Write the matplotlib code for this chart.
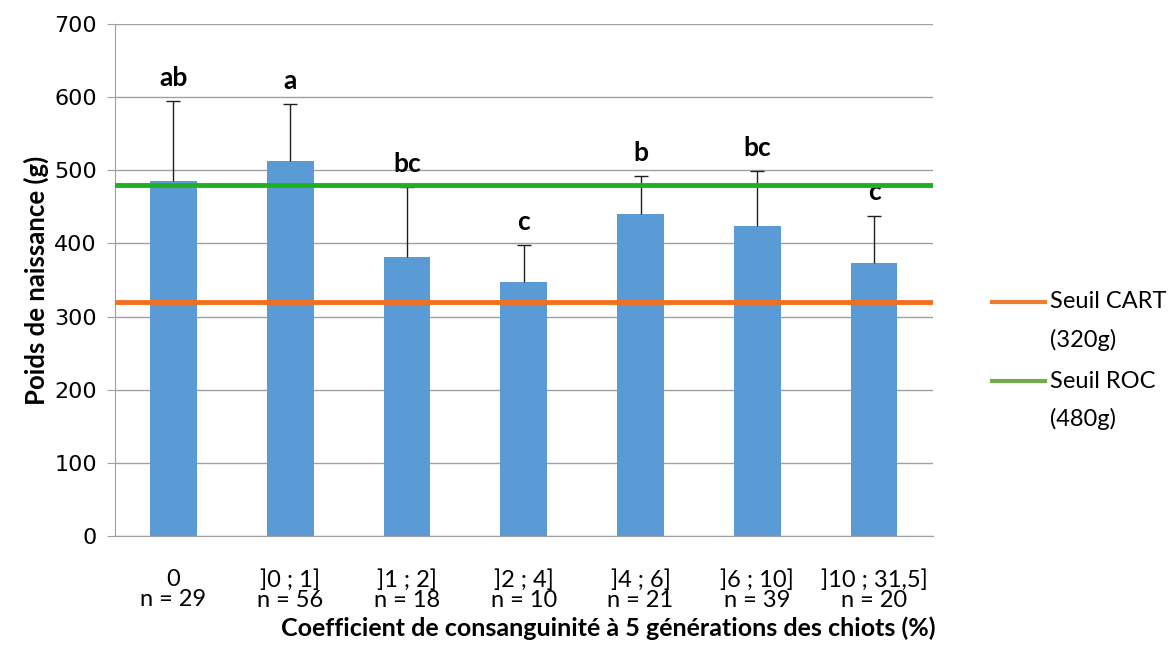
import numpy as np
import matplotlib.pyplot as plt
from matplotlib.lines import Line2D

plt.rcParams['font.family'] = ['Lato', 'DejaVu Sans']

# Poids de naissance moyen par classe de consanguinité
classes = ['0', ']0 ; 1]', ']1 ; 2]', ']2 ; 4]', ']4 ; 6]', ']6 ; 10]', ']10 ; 31,5]']
effectifs = [29, 56, 18, 10, 21, 39, 20]
moyennes = [485, 512, 382, 347, 440, 424, 373]
ecarts = [110, 78, 95, 51, 52, 75, 65]
lettres = ['ab', 'a', 'bc', 'c', 'b', 'bc', 'c']
graduations = [0, 100, 200, 300, 400, 500, 600, 700]

seuil_cart = 320
seuil_roc = 480

fig = plt.figure(figsize=(11.73, 6.45), dpi=100)
ax = fig.add_axes([0.098, 0.169, 0.697, 0.794])

x = np.arange(len(classes))
ax.bar(x, moyennes, width=0.4, color='#5b9bd5', zorder=2)
_, caps, _ = ax.errorbar(x, moyennes, yerr=[np.zeros(len(x)), ecarts], fmt='none',
                         ecolor='#202020', elinewidth=1, capsize=5, capthick=1, zorder=3)
caps[0].set_visible(False)  # pas de trait en bas de la barre d'erreur

for xi, m, e, l in zip(x, moyennes, ecarts, lettres):
    ax.annotate(l, (xi, m + e), xytext=(0, 8), textcoords='offset points',
                ha='center', va='bottom', fontsize=19, fontweight='bold')

ax.axhline(seuil_cart, color='#f07020', lw=3.5, zorder=4)
ax.axhline(seuil_roc, color='#1fb01f', lw=3.5, zorder=4)

# légende à droite
legende = [('#ed7d31', 'Seuil CART', '(320g)', 0.532),
           ('#70ad47', 'Seuil ROC', '(480g)', 0.409)]
for couleur, l1, l2, yl in legende:
    fig.add_artist(Line2D([0.846, 0.891], [yl, yl], color=couleur, lw=3,
                          transform=fig.transFigure))
    fig.text(0.895, yl, l1, fontsize=17, va='center', ha='left')
    fig.text(0.895, yl - 0.059, l2, fontsize=17, va='center', ha='left')

ax.set_xlim(-0.5, len(classes) - 0.5)
ax.set_ylim(0, 700)
ax.set_yticks(graduations)
ax.set_yticklabels([str(g) for g in graduations])
ax.yaxis.grid(True, color='#a0a0a0', lw=1, zorder=0)
ax.set_axisbelow(True)

ax.set_xticks(x)
ax.set_xticklabels([f'{c}\nn = {n}' for c, n in zip(classes, effectifs)], fontsize=17,
                   linespacing=0.95)
ax.tick_params(axis='x', length=0, pad=24)
ax.tick_params(axis='y', length=6, color='#a0a0a0', pad=7)

for s in ['top', 'right']:
    ax.spines[s].set_visible(False)
for s in ['left', 'bottom']:
    ax.spines[s].set_color('#a0a0a0')

ax.set_ylabel('Poids de naissance (g)', fontsize=18.5, fontweight='bold', labelpad=4)
ax.set_xlabel('Coefficient de consanguinité à 5 générations des chiots (%)',
              fontsize=18, fontweight='bold', labelpad=4, x=0.603)

# graduations de l'axe y dans une police plus large
for t in ax.get_yticklabels():
    t.set_fontfamily('DejaVu Sans')
    t.set_fontsize(16)

fig.savefig('out.png', dpi=100)
